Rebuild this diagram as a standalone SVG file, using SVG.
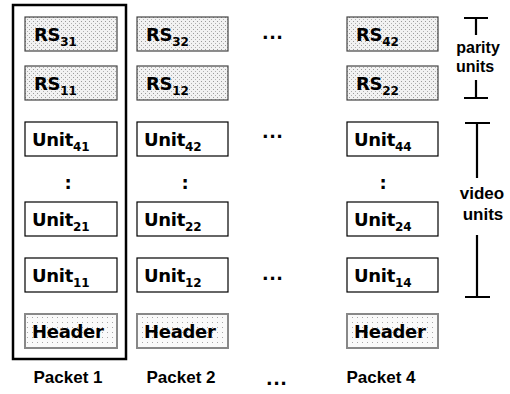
<svg xmlns="http://www.w3.org/2000/svg" width="510" height="394" viewBox="0 0 510 394">
<defs>
<pattern id="dense" width="4" height="4" patternUnits="userSpaceOnUse">
<rect width="4" height="4" fill="#f2f2f2"/>
<rect x="1" y="1" width="1" height="1" fill="#9a9a9a"/>
<rect x="3" y="3" width="1" height="1" fill="#b0b0b0"/>
</pattern>
<pattern id="sparse" width="5" height="5" patternUnits="userSpaceOnUse">
<rect width="5" height="5" fill="#fafafa"/>
<rect x="2" y="2" width="1" height="1" fill="#a8a8a8"/>
</pattern>
<style>
.rs{fill:url(#dense);stroke:#444;stroke-width:1.2}
.unit{fill:#fff;stroke:#000;stroke-width:1.2}
.hdr{fill:url(#sparse);stroke:#888;stroke-width:2}
.t{font-family:"DejaVu Sans",Verdana,sans-serif;font-weight:bold;font-size:18px;fill:#000;letter-spacing:-0.3px}
.s{font-size:12px;letter-spacing:0}
.l{font-family:"Liberation Sans",Arial,sans-serif;font-weight:bold;font-size:17px;fill:#000}
.lb{font-family:"Liberation Sans",Arial,sans-serif;font-weight:bold;font-size:16px;fill:#000}
.dots{font-family:"Liberation Sans",Arial,sans-serif;font-weight:900;font-size:22px;fill:#000;letter-spacing:1px}
.br{stroke:#000;stroke-width:2.2;fill:none}
</style>
</defs>
<rect id="packet1-frame" x="13" y="5" width="113" height="354" fill="none" stroke="#000" stroke-width="2.5"/>
<g id="col1">
<g id="rs31"><rect class="rs" x="25" y="17" width="92" height="34"/><text class="t" x="34" y="41">RS<tspan class="s" dy="5">31</tspan></text></g>
<g id="rs11"><rect class="rs" x="25" y="66" width="92" height="34"/><text class="t" x="34" y="90">RS<tspan class="s" dy="5">11</tspan></text></g>
<g id="unit41"><rect class="unit" x="25" y="122" width="92" height="34"/><text class="t" x="32" y="146">Unit<tspan class="s" dy="5">41</tspan></text></g>
<text class="t" x="68" y="189" text-anchor="middle">:</text>
<g id="unit21"><rect class="unit" x="25" y="202" width="92" height="34"/><text class="t" x="32" y="226">Unit<tspan class="s" dy="5">21</tspan></text></g>
<g id="unit11"><rect class="unit" x="25" y="258" width="92" height="34"/><text class="t" x="32" y="282">Unit<tspan class="s" dy="5">11</tspan></text></g>
<g id="header1"><rect class="hdr" x="25" y="314" width="92" height="34"/><text class="t" x="32" y="338">Header</text></g>
<text class="l" x="68" y="383" text-anchor="middle">Packet 1</text>
</g>
<g id="col2">
<g id="rs32"><rect class="rs" x="137" y="17" width="91" height="34"/><text class="t" x="146" y="41">RS<tspan class="s" dy="5">32</tspan></text></g>
<g id="rs12"><rect class="rs" x="137" y="66" width="91" height="34"/><text class="t" x="146" y="90">RS<tspan class="s" dy="5">12</tspan></text></g>
<g id="unit42"><rect class="unit" x="137" y="122" width="91" height="34"/><text class="t" x="144" y="146">Unit<tspan class="s" dy="5">42</tspan></text></g>
<text class="t" x="185" y="189" text-anchor="middle">:</text>
<g id="unit22"><rect class="unit" x="137" y="202" width="91" height="34"/><text class="t" x="144" y="226">Unit<tspan class="s" dy="5">22</tspan></text></g>
<g id="unit12"><rect class="unit" x="137" y="258" width="91" height="34"/><text class="t" x="144" y="282">Unit<tspan class="s" dy="5">12</tspan></text></g>
<g id="header2"><rect class="hdr" x="137" y="314" width="91" height="34"/><text class="t" x="144" y="338">Header</text></g>
<text class="l" x="181" y="383" text-anchor="middle">Packet 2</text>
</g>
<g id="ellipsis">
<text class="dots" x="273" y="39" text-anchor="middle">...</text>
<text class="dots" x="273" y="138" text-anchor="middle">...</text>
<text class="dots" x="273" y="280" text-anchor="middle">...</text>
<text class="dots" x="277" y="385" text-anchor="middle">...</text>
</g>
<g id="col4">
<g id="rs42"><rect class="rs" x="347" y="17" width="91" height="34"/><text class="t" x="356" y="41">RS<tspan class="s" dy="5">42</tspan></text></g>
<g id="rs22"><rect class="rs" x="347" y="66" width="91" height="34"/><text class="t" x="356" y="90">RS<tspan class="s" dy="5">22</tspan></text></g>
<g id="unit44"><rect class="unit" x="347" y="122" width="91" height="34"/><text class="t" x="354" y="146">Unit<tspan class="s" dy="5">44</tspan></text></g>
<text class="t" x="383" y="189" text-anchor="middle">:</text>
<g id="unit24"><rect class="unit" x="347" y="202" width="91" height="34"/><text class="t" x="354" y="226">Unit<tspan class="s" dy="5">24</tspan></text></g>
<g id="unit14"><rect class="unit" x="347" y="258" width="91" height="34"/><text class="t" x="354" y="282">Unit<tspan class="s" dy="5">14</tspan></text></g>
<g id="header4"><rect class="hdr" x="347" y="314" width="91" height="34"/><text class="t" x="354" y="338">Header</text></g>
<text class="l" x="381" y="383" text-anchor="middle">Packet 4</text>
</g>
<g id="connectors">
<path class="br" d="M464 18H488M476 18V35M476 80V98M464 98H488"/>
<path class="br" d="M465 123H490M477 123V178M477 235V297M465 297H490"/>
</g>
<g id="labels">
<text class="lb" x="478" y="53" text-anchor="middle">parity</text>
<text class="lb" x="475" y="72" text-anchor="middle">units</text>
<text class="l" x="482" y="199" text-anchor="middle">video</text>
<text class="l" x="483" y="220" text-anchor="middle">units</text>
</g>
</svg>
